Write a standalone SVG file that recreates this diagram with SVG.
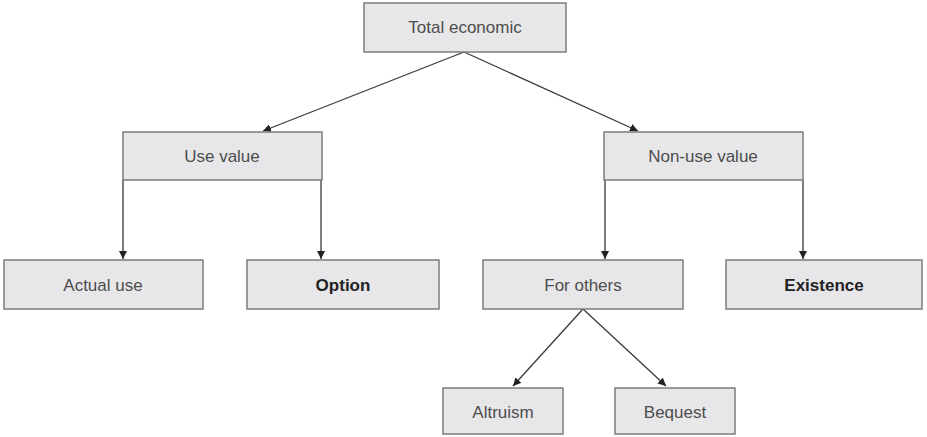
<svg xmlns="http://www.w3.org/2000/svg" width="927" height="437" viewBox="0 0 927 437">
<style>
.box{fill:#e7e7ea;stroke:#7c7c7c;stroke-width:1.5}
.t{font-family:"Liberation Sans",Arial,sans-serif;font-size:17px;fill:#4d4d4d;text-anchor:middle}
.b{font-weight:bold;fill:#222}
.c{stroke:#3a3a3a;stroke-width:1.3;fill:none;marker-end:url(#ah)}
</style>
<defs>
<marker id="ah" viewBox="0 0 10 10" refX="10" refY="5" markerWidth="8" markerHeight="8" markerUnits="userSpaceOnUse" orient="auto">
<path d="M0,0 L10,5 L0,10 z" fill="#222"/>
</marker>
</defs>
<rect width="927" height="437" fill="#fff"/>
<g id="connectors">
<line class="c" x1="464" y1="52" x2="263" y2="131"/>
<line class="c" x1="464" y1="52" x2="638" y2="131"/>
<line class="c" x1="123" y1="180" x2="123" y2="259"/>
<line class="c" x1="321" y1="180" x2="321" y2="259"/>
<line class="c" x1="605" y1="180" x2="605" y2="259"/>
<line class="c" x1="803" y1="180" x2="803" y2="259"/>
<line class="c" x1="583" y1="309" x2="513" y2="386"/>
<line class="c" x1="583" y1="309" x2="666" y2="386"/>
</g>
<g id="total"><rect class="box" x="364" y="3" width="202" height="49"/><text class="t" x="465" y="33">Total economic</text></g>
<g id="use"><rect class="box" x="123" y="132" width="199" height="48"/><text class="t" x="222" y="162">Use value</text></g>
<g id="nonuse"><rect class="box" x="604" y="132" width="199" height="48"/><text class="t" x="703" y="162">Non-use value</text></g>
<g id="actual"><rect class="box" x="4" y="260" width="199" height="49"/><text class="t" x="103" y="291">Actual use</text></g>
<g id="option"><rect class="box" x="247" y="260" width="192" height="49"/><text class="t b" x="343" y="291">Option</text></g>
<g id="others"><rect class="box" x="483" y="260" width="200" height="49"/><text class="t" x="583" y="291">For others</text></g>
<g id="existence"><rect class="box" x="726" y="260" width="196" height="49"/><text class="t b" x="824" y="291">Existence</text></g>
<g id="altruism"><rect class="box" x="443" y="388" width="120" height="46"/><text class="t" x="503" y="418">Altruism</text></g>
<g id="bequest"><rect class="box" x="615" y="388" width="120" height="46"/><text class="t" x="675" y="418">Bequest</text></g>
</svg>
